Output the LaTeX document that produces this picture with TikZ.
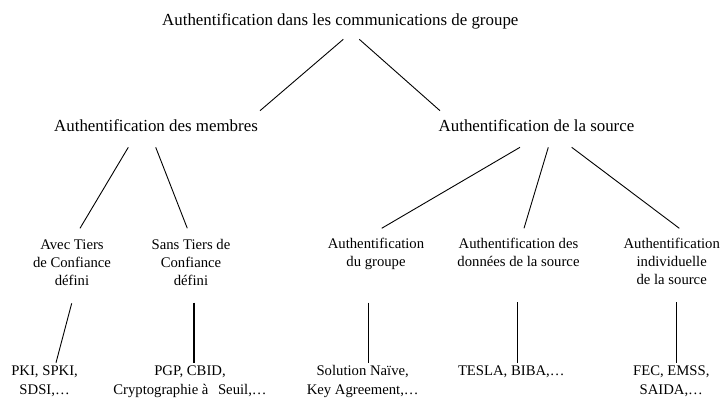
\documentclass[tikz,border=0pt]{standalone}
\usepackage{fontspec}
\setmainfont{LiberationSerif}[Extension=.ttf,UprightFont=*-Regular,BoldFont=*-Bold]
\newcommand{\txtstack}[1]{\begin{tabular}[t]{@{}c@{}}#1\end{tabular}}

\begin{document}
\begin{tikzpicture}
[x=1pt,y=-1pt,
big/.style={inner sep=0pt,anchor=base,font=\fontsize{16.9}{20}\selectfont},
small/.style={inner sep=0pt,anchor=base,font=\fontsize{14.7}{18.3}\selectfont},
branch/.style={line width=0.9pt},
trunk/.style={line width=1.5pt}]
\useasboundingbox (0,0) rectangle (723,402);
\node[big] at (340.3,25) (n1) {Authentification dans les communications de groupe};
\node[big] at (156,131.7) (n2) {Authentification des membres};
\node[big] at (536.5,131.7) (n3) {Authentification de la source};
\node[small] at (72,249.3) (n4) {\txtstack{Avec Tiers\\de Confiance\\défini}};
\node[small] at (191,249.3) (n5) {\txtstack{Sans Tiers de\\Confiance\\défini}};
\node[small] at (376,248.3) (n6) {\txtstack{Authentification\\du groupe}};
\node[small] at (518.5,248.3) (n7) {\txtstack{Authentification des\\données de la source}};
\node[small] at (671.7,248.3) (n8) {\txtstack{Authentification\\individuelle\\de la source}};
\node[small] at (44.6,375.7) (n9) {\txtstack{PKI, SPKI,\\SDSI,…}};
\node[small] at (190,375.7) (n10) {\txtstack{PGP, CBID,\\Cryptographie à\hspace{.4em} Seuil,…}};
\node[small] at (362.7,375.7) (n11) {\txtstack{Solution Naïve,\\Key Agreement,…}};
\node[small] at (511.3,375.7) (n12) {\txtstack{TESLA, BIBA,…}};
\node[small] at (671.3,375.7) (n13) {\txtstack{FEC, EMSS,\\SAIDA,…}};
\draw[branch] ([shift={(3,14.3)}]n1.base) -- ([shift={(104,-21)}]n2.base);
\draw[branch] ([shift={(19,14.3)}]n1.base) -- ([shift={(-96.5,-21)}]n3.base);
\draw[branch] ([shift={(-27.7,15.6)}]n2.base) -- ([shift={(8,-21)}]n4.base);
\draw[branch] ([shift={(-0.3,15.6)}]n2.base) -- ([shift={(-3.7,-21)}]n5.base);
\draw[branch] ([shift={(-16.5,15.6)}]n3.base) -- ([shift={(5.7,-20)}]n6.base);
\draw[branch] ([shift={(11.8,15.6)}]n3.base) -- ([shift={(5.5,-20)}]n7.base);
\draw[branch] ([shift={(35.2,15.6)}]n3.base) -- ([shift={(7.6,-20)}]n8.base);
\draw[branch] ([shift={(-0.3,54)}]n4.base) -- ([shift={(11.4,-13)}]n9.base);
\draw[trunk] ([shift={(3,53.2)}]n5.base) -- ([shift={(4,-13)}]n10.base);
\draw[trunk] ([shift={(-7.7,54.2)}]n6.base) -- ([shift={(5.6,-13)}]n11.base);
\draw[trunk] ([shift={(-0.8,53.7)}]n7.base) -- ([shift={(6.4,-13)}]n12.base);
\draw[trunk] ([shift={(5,53.7)}]n8.base) -- ([shift={(5.4,-13)}]n13.base);
\end{tikzpicture}
\end{document}
